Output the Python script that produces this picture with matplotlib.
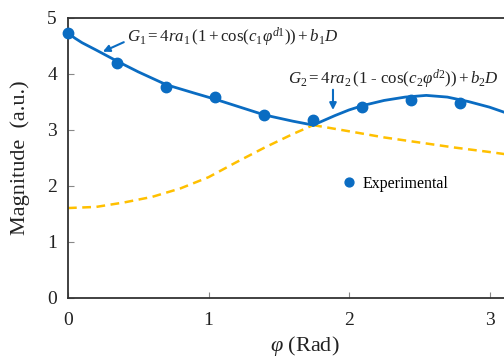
import matplotlib
matplotlib.use("Agg")
import matplotlib.pyplot as plt

plt.rcParams['font.family'] = ['Liberation Serif', 'DejaVu Serif']
plt.rcParams['mathtext.fontset'] = 'custom'
plt.rcParams['mathtext.rm'] = 'Liberation Serif'
plt.rcParams['mathtext.it'] = 'Liberation Serif:italic'
plt.rcParams['mathtext.bf'] = 'Liberation Serif:bold'

# Experimental points
exp_x = [0.0, 0.349, 0.698, 1.047, 1.396, 1.745, 2.094, 2.443, 2.793]
exp_y = [4.73, 4.19, 3.76, 3.58, 3.26, 3.17, 3.41, 3.53, 3.48]

# Fitted curve G1
g1_x = [0.0, 0.05, 0.1, 0.2, 0.35, 0.5, 0.7, 0.9, 1.05, 1.2, 1.4, 1.6, 1.745,
        2.0, 2.25, 2.5, 2.75, 3.0, 3.2, 3.4]
g1_y = [4.72, 4.63, 4.55, 4.42, 4.22, 4.03, 3.80, 3.65, 3.54, 3.42, 3.26, 3.15, 3.08,
        2.97, 2.86, 2.77, 2.68, 2.60, 2.53, 2.47]

# Fitted curve G2
g2_x = [0.0, 0.2, 0.4, 0.6, 0.8, 1.0, 1.2, 1.4, 1.6, 1.745,
        1.9, 2.0, 2.1, 2.25, 2.4, 2.55, 2.7, 2.85, 3.0, 3.15, 3.3, 3.4]
g2_y = [1.60, 1.62, 1.70, 1.80, 1.95, 2.15, 2.42, 2.68, 2.92, 3.08,
        3.25, 3.35, 3.43, 3.52, 3.58, 3.61, 3.58, 3.50, 3.40, 3.27, 3.10, 2.98]

cross_x = 1.745

blue = '#0A6CC2'
gold = '#FFC000'

fig = plt.figure(figsize=(5.04, 3.59), dpi=100)
xmax = 3.37
ax = fig.add_axes([68/504, (359-297.7)/359, xmax*140.5/504, (297.7-17.5)/359])

# solid = upper envelope of the two fits, dashed = the other part
sx1 = [x for x in g1_x if x <= cross_x]; sy1 = [y for x, y in zip(g1_x, g1_y) if x <= cross_x]
dx1 = [x for x in g1_x if x >= cross_x]; dy1 = [y for x, y in zip(g1_x, g1_y) if x >= cross_x]
dx2 = [x for x in g2_x if x <= cross_x]; dy2 = [y for x, y in zip(g2_x, g2_y) if x <= cross_x]
sx2 = [x for x in g2_x if x >= cross_x]; sy2 = [y for x, y in zip(g2_x, g2_y) if x >= cross_x]

ax.plot(dx2, dy2, color=gold, lw=1.8, ls=(0, (3.5, 2.2)), zorder=2)
ax.plot(dx1, dy1, color=gold, lw=1.8, ls=(0, (3.5, 2.2)), zorder=2)
ax.plot(sx1, sy1, color=blue, lw=2.0, zorder=3)
ax.plot(sx2, sy2, color=blue, lw=2.0, zorder=3)
ax.plot(exp_x, exp_y, 'o', color=blue, ms=7.5, zorder=4, label='Experimental', clip_on=False)

ax.set_xlim(0, xmax)
ax.set_ylim(0, 5)
ax.set_xticks([0, 1, 2, 3])
ax.set_yticks([0, 1, 2, 3, 4, 5])
ax.tick_params(direction='in', length=4, width=0.8, color='#888888', labelsize=14,
               pad=10, labelcolor='#222222')
ax.tick_params(axis='y', pad=8)
for s in ['left', 'bottom', 'top']:
    ax.spines[s].set_color('#333333')
    ax.spines[s].set_linewidth(1.3)
ax.spines['right'].set_visible(False)

ax.set_xlabel(r'$\varphi$ (Rad)', fontsize=16, color='#222222', labelpad=4)
ax.set_ylabel('Magnitude  (a.u.)', fontsize=16, color='#222222', labelpad=12)

ax.text(0.42, 4.64, r'$G_1 = 4ra_1\,(1 + \mathrm{cos}(c_1\varphi^{d1})) + b_1D$',
        fontsize=12.2, va='center', ha='left', color='#222222')
ax.annotate('', xy=(0.23, 4.37), xytext=(0.415, 4.58),
            arrowprops=dict(arrowstyle='-|>', color=blue, lw=1.5, mutation_scale=10))
ax.text(1.566, 3.89, r'$G_2 = 4ra_2\,(1\ \text{-}\ \mathrm{cos}(c_2\varphi^{d2})) + b_2D$',
        fontsize=12.2, va='center', ha='left', color='#222222')
ax.annotate('', xy=(1.886, 3.30), xytext=(1.886, 3.76),
            arrowprops=dict(arrowstyle='-|>', color=blue, lw=1.5, mutation_scale=10))

ax.legend(loc='center left', bbox_to_anchor=(1.955/xmax, 2.03/5), frameon=False,
          fontsize=11.5, handlelength=0.8, handletextpad=0.45, markerscale=0.85,
          borderaxespad=0, borderpad=0)

fig.savefig('out.png', dpi=100)
